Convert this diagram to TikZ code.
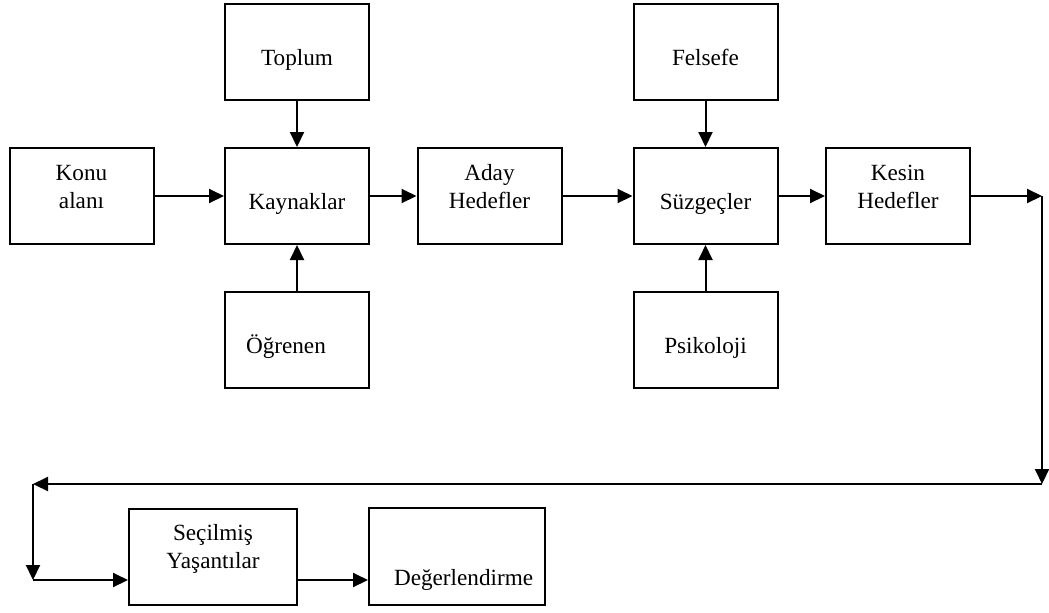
\documentclass[tikz,border=0pt]{standalone}
\usepackage{fontspec}
\setmainfont{Liberation Serif}
\usetikzlibrary{arrows.meta,positioning}

\begin{document}
\begin{tikzpicture}[x=0.5pt, y=-0.5pt,
    box/.style={rectangle, draw, line width=1pt, minimum width=72pt, minimum height=48pt,
                inner ysep=0pt, font=\fontsize{11.6}{13.8}\selectfont, align=center},
    oneline/.style={text height=30.5pt, text depth=17.5pt},
    twoline/.style={text height=30pt, text depth=18pt},
    link/.style={line width=1pt, -{Triangle[length=7.5pt,width=7pt]}}
  ]
  \useasboundingbox (0,0) rectangle (1049,612);

  \node[box, twoline] (konu)      at (81.5,196)  {Konu\\alanı};
  \node[box, oneline] (toplum)    at (297,52)    {Toplum};
  \node[box, oneline] (kaynak)    at (297,196)   {Kaynaklar};
  \node[box, oneline, text width=51pt, inner xsep=10.5pt, align=left]
                      (ogrenen)   at (297,340)   {Öğrenen};
  \node[box, twoline] (aday)      at (489.5,196) {Aday\\Hedefler};
  \node[box, oneline] (felsefe)   at (705.5,52)  {Felsefe};
  \node[box, oneline] (suzgec)    at (705.5,196) {Süzgeçler};
  \node[box, oneline] (psikoloji) at (705.5,340) {Psikoloji};
  \node[box, twoline] (kesin)     at (898,196)   {Kesin\\Hedefler};
  \node[box, twoline, minimum width=84pt]
                      (secilmis)  at (213,556.5) {Seçilmiş\\Yaşantılar};
  \node[box, text height=38.5pt, text depth=10pt, minimum width=88pt,
        text width=63pt, inner xsep=12.5pt, align=left]
                      (deger)     at (457,556.5) {Değerlendirme};

  % corner points of the return line
  \coordinate (c1) at (1042,196);
  \coordinate (c2) at (1042,484);
  \coordinate (c3) at (33,484);
  \coordinate (c4) at (33,580);

  \draw[link] (konu) -- (kaynak);
  \draw[link] (toplum) -- (kaynak);
  \draw[link] (ogrenen) -- (kaynak);
  \draw[link] (kaynak) -- (aday);
  \draw[link] (aday) -- (suzgec);
  \draw[link] (felsefe) -- (suzgec);
  \draw[link] (psikoloji) -- (suzgec);
  \draw[link] (suzgec) -- (kesin);
  \draw[link] (kesin) -- (c1);
  \draw[link] (c1) -- (c2);
  \draw[link] (c2) -- (c3);
  \draw[link] (c3) -- (c4);
  \draw[link] (c4) -- (c4 -| secilmis.west);
  \draw[link] (c4 -| secilmis.east) -- (c4 -| deger.west);
\end{tikzpicture}
\end{document}
